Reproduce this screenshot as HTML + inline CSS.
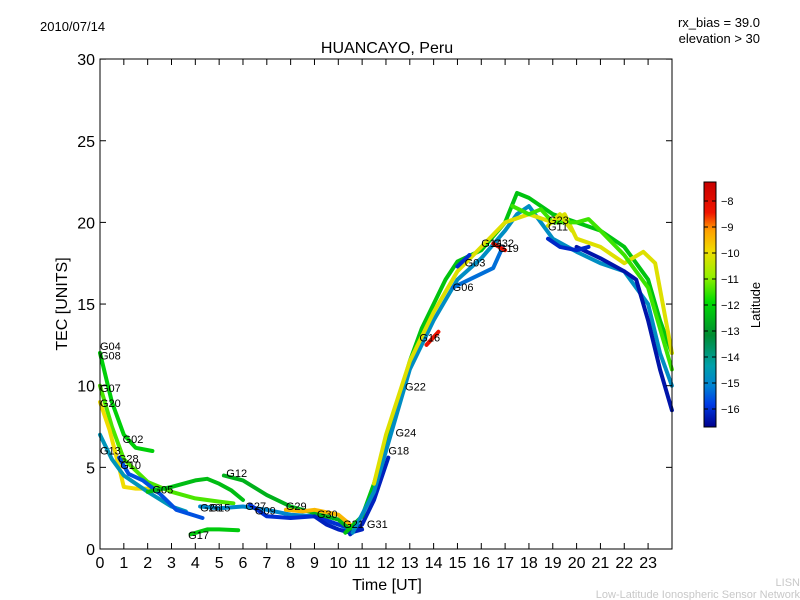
<!DOCTYPE html>
<html><head><meta charset="utf-8"><style>
body{margin:0;background:#fff;}
svg{display:block;font-family:"Liberation Sans","DejaVu Sans",sans-serif;}
</style></head><body>
<svg id="chart" width="800" height="600" viewBox="0 0 800 600">
<defs><linearGradient id="cmapg" x1="0" y1="1" x2="0" y2="0"></linearGradient></defs>
<rect x="0" y="0" width="800" height="600" fill="#fff"/>
<text x="40" y="31" font-size="13">2010/07/14</text>
<text x="760" y="27" font-size="13" text-anchor="end">rx_bias = 39.0</text>
<text x="760" y="43" font-size="13" text-anchor="end">elevation &gt; 30</text>
<text x="387" y="53" font-size="16" text-anchor="middle">HUANCAYO, Peru</text>
<text x="387" y="590" font-size="16" text-anchor="middle">Time [UT]</text>
<text transform="translate(67,304) rotate(-90)" font-size="16" text-anchor="middle">TEC [UNITS]</text>
<g id="tracks"></g>
<g id="labels"></g>
<rect x="100" y="59" width="572" height="490" fill="none" stroke="#000" stroke-width="1"/>
<g id="axes"></g>
<rect x="704" y="182" width="12" height="245" fill="url(#cmapg)" stroke="#000" stroke-width="1"/>
<g id="cbticks"></g>
<text transform="translate(760,305) rotate(-90)" font-size="13" text-anchor="middle">Latitude</text>
<text x="800" y="586" font-size="11" fill="#c8c8c8" text-anchor="end">LISN</text>
<text x="800" y="598" font-size="11" fill="#c8c8c8" text-anchor="end">Low-Latitude Ionospheric Sensor Network</text>
</svg>
<script>
const xTicks=[0,1,2,3,4,5,6,7,8,9,10,11,12,13,14,15,16,17,18,19,20,21,22,23];
const yTicks=[0,5,10,15,20,25,30];
const cbTicks=[-8,-9,-10,-11,-12,-13,-14,-15,-16];
const trackNames=["G04","G07","G20","G13","G10","G05","G17","G26","G27","G12","G29","G30","G31","A","B","C","D","E","G06","G03","G19","G16","G23","G11"];
const trackTimes=[
[0,0.5,1,1.5,2.2],
[0,0.5,1,1.5,2,3,4,5,5.6],
[0,0.4,0.8,1,1.5,2,2.5],
[0,0.5,1,2,3,3.6],
[0.8,1.2,1.8,2.5,3.2,4.3],
[2,3,4,4.5,5,5.5,6],
[3.8,4.5,5,5.8],
[4.2,5,6,7,8,9,10,10.5],
[6.3,7,8,9,10,10.5],
[5.2,6,7,8,9,10,10.5],
[7.8,8.5,9,10,10.5],
[9,9.5,10,10.5,11],
[10.5,11,11.5,12.1],
[10.3,11,11.5,12,12.5,13,13.5,14,14.5,15,16,17,17.5,18,19,20,21,22,22.5,23,23.5,24],
[10.6,11.5,12,13,14,15,16,17,17.5,18,19,20,21,22,23,23.5,24],
[20,21,22,22.5,23,23.5,24],
[11.5,12,13,14,15,16,17,18,19,19.5,20,21,22,22.8,23.3,24],
[17.3,18,18.5,19,20,20.5,21,22,22.5,23,24],
[14.8,15.5,16.5,16.9],
[15,15.5],
[16.5,17],
[13.7,14.2],
[18.8,19.3,19.8],
[18.8,19.3,20,20.5]];
const trackTec=[
[12,9,7,6.2,6],
[10,7.5,5.5,4.8,4.1,3.5,3.1,2.9,2.8],
[9,7.3,5,3.8,3.7,3.7,3.5],
[7,5.5,4.5,3.5,2.6,2.3],
[5.6,4.6,4.2,3.4,2.4,1.9],
[3.5,3.8,4.2,4.3,4,3.6,3],
[0.9,1.2,1.2,1.15],
[2.6,2.5,2.6,2.4,2.1,2,1.5,1.2],
[2.7,2,1.9,2,1.5,1.3],
[4.5,4.2,3.3,2.6,2.2,1.8,1.2],
[2.4,2.3,2.4,2.1,1.5],
[2,1.5,1.2,1,1.2],
[0.9,1.5,3,5.6],
[1,2,4,6.5,9,11.5,13.5,15,16.5,17.6,18.3,20,21.8,21.5,20.5,20,19.5,18.5,17.5,16.5,14,12],
[1,3.5,6,11,14,16.5,17.8,19.5,20.5,21,19,18.2,17.5,17,15,12,10],
[18.5,17.8,17,16.5,14,11,8.5],
[4,7,11.5,14.5,17,18.5,20,20.5,20,20.5,19,18.5,17.5,18.2,17.5,12],
[21,20.5,20.8,20,20,20.2,19.5,18,17,16,11],
[16,16.5,17.2,18.5],
[17.3,18],
[18.7,18.3],
[12.5,13.3],
[19.8,20.5,19.5],
[19,18.5,18.3,18.5]];
const trackLat=[-12.2,-11.5,-10,-14.8,-15.8,-12.5,-12.3,-15.2,-16.2,-12.7,-9.5,-16.4,-16.4,-12.4,-15,-16.6,-10.2,-11.6,-15.5,-16.2,-8.3,-8.4,-10.3,-16.3];
const labelNames=["G04","G08","G07","G20","G02","G13","G28","G10","G05","G12","G17","G26","G15","G27","G09","G29","G30","G21","G31","G24","G18","G22","G16","G06","G03","G14","G32","G19","G23","G11"];
const labelT=[0,0,0,0,0.95,0,0.75,0.85,2.2,5.3,3.7,4.2,4.6,6.1,6.5,7.8,9.1,10.2,11.2,12.4,12.1,12.8,13.4,14.8,15.3,16,16.5,16.7,18.8,18.8];
const labelV=[12.2,11.6,9.6,8.7,6.5,5.8,5.3,4.9,3.4,4.4,0.6,2.3,2.3,2.4,2.1,2.4,1.9,1.3,1.3,6.9,5.8,9.7,12.7,15.8,17.3,18.5,18.5,18.2,19.9,19.5];
// colormap stops (latitude -> rgb)
const cmapLat=[-16.9,-16,-15.3,-14.5,-13.3,-12,-11,-10,-9.2,-8.5,-7.3];
const cmapR=[0,0,0,0,0,0,150,240,255,240,200];
const cmapG=[0,60,130,160,140,220,240,220,160,20,0];
const cmapB=[140,230,210,170,50,0,0,0,0,0,0];
const X=t=>100+t*23.83, Y=v=>549-v*16.33;
const NS="http://www.w3.org/2000/svg";
function cmap(l){
 if(l<=cmapLat[0])return `rgb(${cmapR[0]},${cmapG[0]},${cmapB[0]})`;
 for(let i=1;i<cmapLat.length;i++){if(l<=cmapLat[i]){const f=(l-cmapLat[i-1])/(cmapLat[i]-cmapLat[i-1]);
  const m=a=>Math.round(a[i-1]+(a[i]-a[i-1])*f);return `rgb(${m(cmapR)},${m(cmapG)},${m(cmapB)})`;}}
 const n=cmapLat.length-1;return `rgb(${cmapR[n]},${cmapG[n]},${cmapB[n]})`;}
const grad=document.getElementById('cmapg');
cmapLat.forEach((l,i)=>{const s=document.createElementNS(NS,'stop');
 s.setAttribute('offset',((l-cmapLat[0])/(cmapLat[cmapLat.length-1]-cmapLat[0])).toFixed(3));
 s.setAttribute('stop-color',cmap(l));grad.appendChild(s);});
const tg=document.getElementById('tracks');
trackTimes.forEach((ts,i)=>{
 const p=document.createElementNS(NS,'polyline');
 p.setAttribute('points',ts.map((t,j)=>X(t).toFixed(1)+','+Y(trackTec[i][j]).toFixed(1)).join(' '));
 p.setAttribute('fill','none');p.setAttribute('stroke',cmap(trackLat[i]));
 p.setAttribute('stroke-width','4');p.setAttribute('stroke-linejoin','round');p.setAttribute('stroke-linecap','round');
 
 
 tg.appendChild(p);});
const lg=document.getElementById('labels');
labelNames.forEach((n,i)=>{
 const t=document.createElementNS(NS,'text');
 t.setAttribute('x',X(labelT[i]));t.setAttribute('y',Y(labelV[i]));
 t.setAttribute('font-size','11');t.textContent=n;
 
 
 lg.appendChild(t);});
const ax=document.getElementById('axes');
function line(x1,y1,x2,y2){const l=document.createElementNS(NS,'line');
 l.setAttribute('x1',x1);l.setAttribute('y1',y1);l.setAttribute('x2',x2);l.setAttribute('y2',y2);l.setAttribute('stroke','#000');return l;}
function txt(x,y,s,anchor,size){const t=document.createElementNS(NS,'text');
 t.setAttribute('x',x);t.setAttribute('y',y);t.setAttribute('text-anchor',anchor);t.setAttribute('font-size',size);t.textContent=s;return t;}
xTicks.forEach(v=>{const x=X(v);
 const a=line(x,549,x,543);ax.appendChild(a);
 const b=line(x,59,x,65);ax.appendChild(b);
 const t=txt(x,568,String(v),'middle',16);ax.appendChild(t);});
yTicks.forEach(v=>{const y=Y(v);
 const a=line(100,y,106,y);ax.appendChild(a);
 const b=line(672,y,666,y);ax.appendChild(b);
 const t=txt(95,y+6,String(v),'end',16);ax.appendChild(t);});
const cg=document.getElementById('cbticks');
cbTicks.forEach(v=>{const y=201+(-8-v)*26;
 const a=line(712,y,716,y);cg.appendChild(a);
 const c=line(704,y,708,y);cg.appendChild(c);
 const t=txt(721,y+4,'\u2212'+Math.abs(v),'start',11);cg.appendChild(t);});
</script>
</body></html>
